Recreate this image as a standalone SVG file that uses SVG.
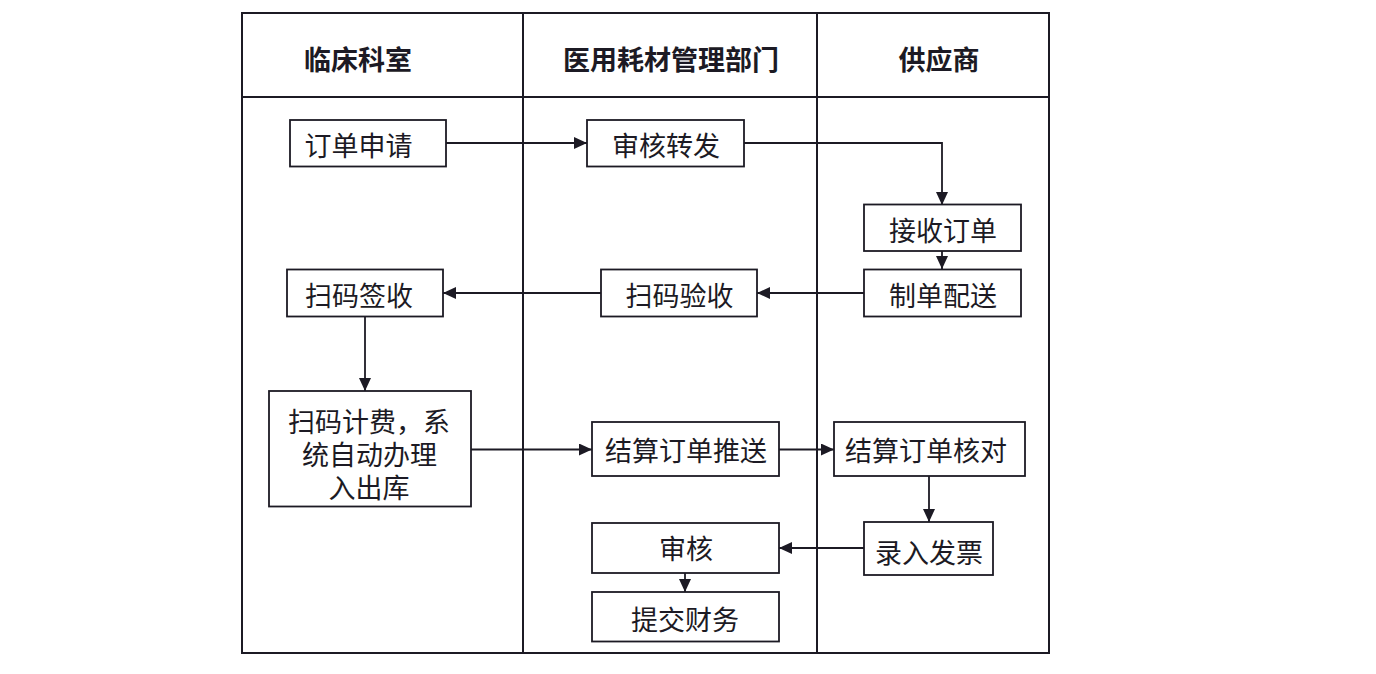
<svg xmlns="http://www.w3.org/2000/svg" width="1376" height="674" viewBox="0 0 1376 674">
<defs>
<style>
.frame{fill:none;stroke:#1c1a24;stroke-width:2}
.box{fill:#ffffff;stroke:#1c1a24;stroke-width:1.8}
.t{font-family:"Noto Sans CJK SC","Noto Sans CJK JP",sans-serif;font-size:27px;fill:#1c1a24;text-anchor:middle;dominant-baseline:central}
.m{font-family:"Liberation Sans","Noto Sans CJK SC","Noto Sans CJK JP",sans-serif;font-size:27px;fill:#1c1a24;text-anchor:middle}
.h{font-family:"Noto Sans CJK SC","Noto Sans CJK JP",sans-serif;font-size:27px;font-weight:bold;fill:#1c1a24;text-anchor:middle;dominant-baseline:central}
.c{fill:none;stroke:#1c1a24;stroke-width:1.8;marker-end:url(#arr)}
</style>
<marker id="arr" markerUnits="userSpaceOnUse" markerWidth="14" markerHeight="12" refX="13" refY="6" orient="auto">
<path d="M0,0 L13,6 L0,12 Z" fill="#1c1a24"/>
</marker>
</defs>
<rect width="1376" height="674" fill="#ffffff"/>
<g id="lanes">
<rect class="frame" x="242" y="13" width="807" height="640"/>
<line class="frame" x1="242" y1="97" x2="1049" y2="97"/>
<line class="frame" x1="523" y1="13" x2="523" y2="653"/>
<line class="frame" x1="817" y1="13" x2="817" y2="653"/>
<text class="h" x="358" y="58">临床科室</text>
<text class="h" x="671" y="58">医用耗材管理部门</text>
<text class="h" x="939" y="58">供应商</text>
</g>
<g id="connectors">
<path class="c" d="M445,143 H587"/>
<path class="c" d="M744,143 H942 V205"/>
<path class="c" d="M942,251 V269"/>
<path class="c" d="M865,293 H757"/>
<path class="c" d="M601,293 H443"/>
<path class="c" d="M365,317 V391"/>
<path class="c" d="M471,449.5 H592"/>
<path class="c" d="M779,449.5 H834"/>
<path class="c" d="M929,476 V522"/>
<path class="c" d="M865,548 H779"/>
<path class="c" d="M685,573 V592"/>
</g>
<g id="n1"><rect class="box" x="290" y="120" width="156" height="46.5"/><text class="t" x="358.5" y="144">订单申请</text></g>
<g id="n2"><rect class="box" x="587" y="120" width="157" height="46.5"/><text class="t" x="666" y="144">审核转发</text></g>
<g id="n3"><rect class="box" x="864" y="204.5" width="157" height="46.5"/><text class="t" x="943" y="229.5">接收订单</text></g>
<g id="n4"><rect class="box" x="864" y="269.5" width="157" height="47"/><text class="t" x="943" y="294">制单配送</text></g>
<g id="n5"><rect class="box" x="601" y="269.5" width="156" height="47"/><text class="t" x="679.5" y="294">扫码验收</text></g>
<g id="n6"><rect class="box" x="287" y="269.5" width="156" height="47"/><text class="t" x="359" y="294">扫码签收</text></g>
<g id="n7"><rect class="box" x="269" y="391" width="202" height="115.5"/><text class="m"><tspan x="369" y="432">扫码计费，系</tspan><tspan x="369.5" y="465">统自动办理</tspan><tspan x="369" y="498">入出库</tspan></text></g>
<g id="n8"><rect class="box" x="592" y="422" width="187" height="54"/><text class="t" x="686" y="449.5">结算订单推送</text></g>
<g id="n9"><rect class="box" x="834" y="422" width="191" height="54"/><text class="t" x="926" y="449.5">结算订单核对</text></g>
<g id="n10"><rect class="box" x="864" y="522" width="129" height="53"/><text class="t" x="929" y="551">录入发票</text></g>
<g id="n11"><rect class="box" x="592" y="523" width="187" height="50"/><text class="t" x="686" y="547">审核</text></g>
<g id="n12"><rect class="box" x="592" y="592" width="187" height="49.5"/><text class="t" x="685" y="618">提交财务</text></g>
</svg>
